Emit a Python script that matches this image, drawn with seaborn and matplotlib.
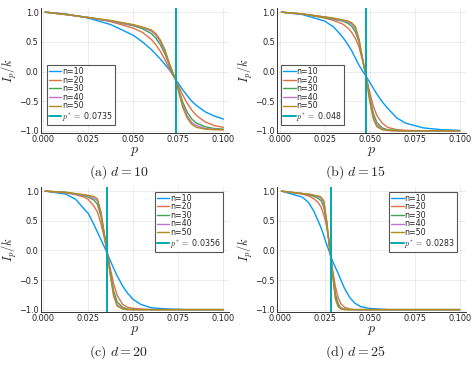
import numpy as np
import pandas as pd
import seaborn as sns
import matplotlib.pyplot as plt

sns.set_style("white")
plt.rcParams['font.family'] = ['DejaVu Sans']
plt.rcParams['mathtext.fontset'] = 'cm'

# colours of the julia default palette
colors = ['#009AFA', '#E36F47', '#3EA44E', '#C371D2', '#AC8E18']
teal = '#00A9AD'
ns = [10, 20, 30, 40, 50]

# (a) d = 10
pa = [0.001, 0.0125, 0.025, 0.0375, 0.05, 0.055, 0.06, 0.0625, 0.065, 0.0675, 0.07,
      0.0715, 0.0735, 0.0755, 0.0775, 0.08, 0.0825, 0.085, 0.09, 0.095, 0.1]
a10 = [1.00, 0.97, 0.90, 0.79, 0.61, 0.50, 0.37, 0.29, 0.21, 0.12, 0.03,
       -0.04, -0.135, -0.22, -0.31, -0.41, -0.50, -0.57, -0.68, -0.75, -0.80]
a20 = [1.00, 0.96, 0.91, 0.84, 0.73, 0.66, 0.54, 0.45, 0.34, 0.20, 0.05,
       -0.03, -0.135, -0.27, -0.40, -0.54, -0.65, -0.74, -0.85, -0.91, -0.94]
a30 = [1.00, 0.96, 0.91, 0.85, 0.77, 0.72, 0.64, 0.56, 0.45, 0.30, 0.10,
       -0.01, -0.135, -0.33, -0.52, -0.69, -0.80, -0.87, -0.93, -0.96, -0.97]
a40 = [1.00, 0.96, 0.91, 0.85, 0.78, 0.74, 0.68, 0.61, 0.50, 0.34, 0.12,
       0.01, -0.135, -0.36, -0.57, -0.75, -0.86, -0.91, -0.96, -0.97, -0.98]
a50 = [1.00, 0.96, 0.91, 0.86, 0.79, 0.75, 0.70, 0.64, 0.53, 0.37, 0.14,
       0.02, -0.135, -0.38, -0.61, -0.79, -0.89, -0.94, -0.97, -0.98, -0.98]

# (b) d = 15
pb = [0.001, 0.0125, 0.025, 0.03, 0.035, 0.038, 0.04, 0.042, 0.044, 0.046, 0.048,
      0.05, 0.052, 0.054, 0.057, 0.06, 0.065, 0.07, 0.08, 0.09, 0.1]
b10 = [1.00, 0.96, 0.85, 0.75, 0.58, 0.45, 0.35, 0.23, 0.11, 0.01, -0.08,
       -0.18, -0.28, -0.38, -0.51, -0.62, -0.78, -0.87, -0.95, -0.98, -0.99]
b20 = [1.00, 0.97, 0.90, 0.86, 0.80, 0.73, 0.66, 0.56, 0.42, 0.19, -0.08,
       -0.35, -0.58, -0.74, -0.87, -0.94, -0.98, -0.99, -1.00, -1.00, -1.00]
b30 = [1.00, 0.97, 0.91, 0.88, 0.85, 0.81, 0.76, 0.67, 0.50, 0.22, -0.08,
       -0.42, -0.70, -0.86, -0.95, -0.98, -0.99, -1.00, -1.00, -1.00, -1.00]
b40 = [1.00, 0.97, 0.92, 0.89, 0.86, 0.83, 0.80, 0.72, 0.53, 0.22, -0.08,
       -0.47, -0.76, -0.90, -0.97, -0.99, -1.00, -1.00, -1.00, -1.00, -1.00]
b50 = [1.00, 0.97, 0.92, 0.90, 0.87, 0.85, 0.82, 0.76, 0.56, 0.22, -0.08,
       -0.50, -0.80, -0.93, -0.98, -0.99, -1.00, -1.00, -1.00, -1.00, -1.00]

# (c) d = 20
pc = [0.001, 0.0125, 0.018, 0.0226, 0.025, 0.028, 0.03, 0.032, 0.034, 0.0356, 0.037,
      0.039, 0.041, 0.044, 0.0467, 0.05, 0.054, 0.06, 0.07, 0.08, 0.1]
c10 = [1.00, 0.95, 0.86, 0.70, 0.62, 0.44, 0.31, 0.18, 0.05, -0.06, -0.16,
       -0.30, -0.43, -0.60, -0.72, -0.83, -0.91, -0.97, -0.99, -1.00, -1.00]
c20 = [1.00, 0.97, 0.94, 0.90, 0.86, 0.75, 0.65, 0.45, 0.19, -0.06, -0.28,
       -0.56, -0.76, -0.91, -0.96, -0.98, -0.99, -1.00, -1.00, -1.00, -1.00]
c30 = [1.00, 0.98, 0.95, 0.92, 0.90, 0.85, 0.78, 0.57, 0.23, -0.06, -0.34,
       -0.68, -0.87, -0.96, -0.99, -1.00, -1.00, -1.00, -1.00, -1.00, -1.00]
c40 = [1.00, 0.98, 0.95, 0.93, 0.92, 0.88, 0.84, 0.62, 0.24, -0.06, -0.37,
       -0.74, -0.92, -0.98, -1.00, -1.00, -1.00, -1.00, -1.00, -1.00, -1.00]
c50 = [1.00, 0.98, 0.96, 0.94, 0.93, 0.91, 0.87, 0.65, 0.25, -0.06, -0.38,
       -0.77, -0.94, -0.99, -1.00, -1.00, -1.00, -1.00, -1.00, -1.00, -1.00]

# (d) d = 25
pd_ = [0.001, 0.0125, 0.016, 0.019, 0.0213, 0.023, 0.0245, 0.026, 0.0272, 0.0283, 0.0295,
       0.031, 0.0325, 0.034, 0.036, 0.039, 0.0417, 0.045, 0.05, 0.06, 0.1]
d10 = [1.00, 0.90, 0.81, 0.66, 0.50, 0.38, 0.25, 0.11, 0.01, -0.09, -0.19,
       -0.29, -0.39, -0.50, -0.64, -0.80, -0.89, -0.95, -0.98, -1.00, -1.00]
d20 = [1.00, 0.95, 0.92, 0.87, 0.81, 0.73, 0.60, 0.42, 0.18, -0.09, -0.35,
       -0.62, -0.80, -0.90, -0.96, -0.99, -1.00, -1.00, -1.00, -1.00, -1.00]
d30 = [1.00, 0.96, 0.94, 0.91, 0.88, 0.84, 0.73, 0.48, 0.19, -0.09, -0.40,
       -0.74, -0.90, -0.97, -0.99, -1.00, -1.00, -1.00, -1.00, -1.00, -1.00]
d40 = [1.00, 0.96, 0.95, 0.93, 0.91, 0.88, 0.80, 0.51, 0.19, -0.09, -0.42,
       -0.80, -0.94, -0.98, -1.00, -1.00, -1.00, -1.00, -1.00, -1.00, -1.00]
d50 = [1.00, 0.96, 0.95, 0.93, 0.92, 0.90, 0.84, 0.53, 0.19, -0.09, -0.43,
       -0.83, -0.95, -0.99, -1.00, -1.00, -1.00, -1.00, -1.00, -1.00, -1.00]

pstars = [0.0735, 0.048, 0.0356, 0.0283]
pstar_txt = ['0.0735', '0.048', '0.0356', '0.0283']
captions = [r'$\mathrm{(a)}\ d=10$', r'$\mathrm{(b)}\ d=15$',
            r'$\mathrm{(c)}\ d=20$', r'$\mathrm{(d)}\ d=25$']

panels = [(pa, [a10, a20, a30, a40, a50]),
          (pb, [b10, b20, b30, b40, b50]),
          (pc, [c10, c20, c30, c40, c50]),
          (pd_, [d10, d20, d30, d40, d50])]

W, H = 476, 365
fig = plt.figure(figsize=(W / 100, H / 100), dpi=100)

# axes boxes in pixels: left, top, right, bottom
boxes = [(40.7, 8.3, 229.3, 133.0), (277.0, 8.3, 465.6, 133.0),
         (40.7, 187.3, 229.3, 311.7), (277.0, 187.3, 465.6, 311.7)]
leg_loc = ['lower left', 'lower left', 'upper right', 'upper right']
leg_anchor = [(0.032, 0.064), (0.021, 0.064), (0.965, 0.965), (0.953, 0.965)]
cap_xy = [(119, 172), (355, 172), (119, 351.7), (355, 351.7)]

for i, (p, curves) in enumerate(panels):
    l, t, r, b = boxes[i]
    ax = fig.add_axes([l / W, 1 - b / H, (r - l) / W, (b - t) / H])
    for n, vals, col in zip(ns, curves, colors):
        sns.lineplot(x=p, y=vals, ax=ax, color=col, lw=1.0, label=f'n={n}')
    ax.axvline(pstars[i], color=teal, lw=1.4, label=r'$p^*=$ ' + pstar_txt[i])

    ax.set_xlim(-0.0015, 0.1033)
    ax.set_ylim(-1.035, 1.065)
    ax.set_xticks([0, 0.025, 0.05, 0.075, 0.1])
    ax.set_xticklabels(['0.000', '0.025', '0.050', '0.075', '0.100'])
    ax.set_yticks([-1, -0.5, 0, 0.5, 1])
    ax.set_yticklabels(['\u22121.0', '\u22120.5', '0.0', '0.5', '1.0'])
    ax.grid(True, color='black', alpha=0.1, lw=0.5)
    for s in ['top', 'right']:
        ax.spines[s].set_visible(False)
    for s in ['left', 'bottom']:
        ax.spines[s].set_color('#333333')
        ax.spines[s].set_linewidth(0.7)
    ax.tick_params(direction='in', length=2.5, width=0.5, pad=1.5,
                   labelsize=5.9, colors='#222222')
    ax.set_xlabel(r'$p$', fontsize=10, labelpad=0)
    ax.set_ylabel(r'$I_p/k$', fontsize=9, labelpad=0)

    leg = ax.legend(loc=leg_loc[i], bbox_to_anchor=leg_anchor[i], fontsize=5.7,
                    frameon=True, fancybox=False, edgecolor='#555555', framealpha=1,
                    borderpad=0.25, labelspacing=-0.05, handlelength=1.6,
                    handletextpad=0.1, borderaxespad=0)
    leg.get_frame().set_linewidth(0.8)

    cx, cy = cap_xy[i]
    fig.text(cx / W, 1 - cy / H, captions[i], ha='center', va='center', fontsize=10)

fig.savefig('out.png', dpi=100)
